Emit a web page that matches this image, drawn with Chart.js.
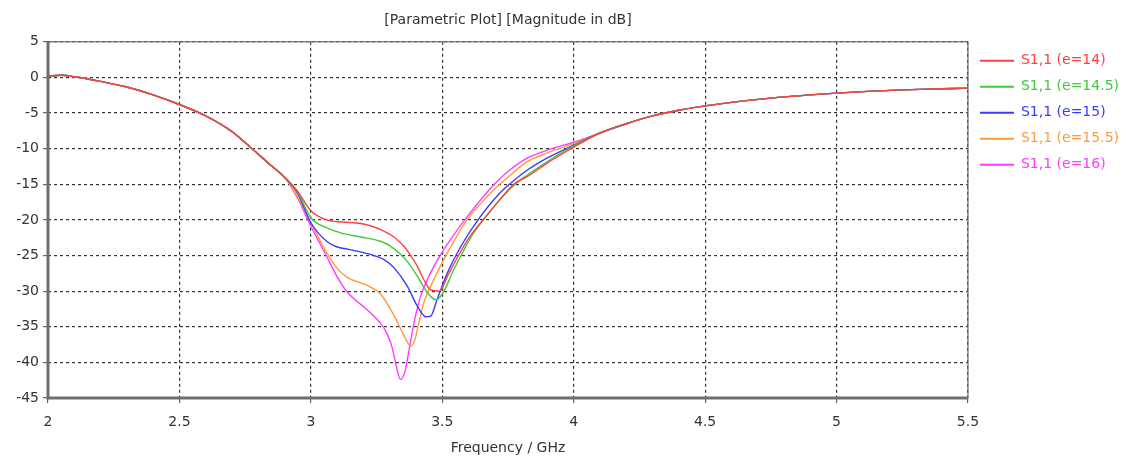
<!DOCTYPE html>
<html>
<head>
<meta charset="utf-8">
<script src="https://cdn.jsdelivr.net/npm/chart.js@4.4.1/dist/chart.umd.min.js"></script>
<style>
  html, body { margin: 0; padding: 0; background: #fff; }
  #wrap { width: 1137px; height: 460px; }
</style>
</head>
<body>
<div id="wrap"><canvas id="plot-s11"></canvas></div>
<script>
// x ticks / y ticks
var freq_ticks = [2, 2.5, 3, 3.5, 4, 4.5, 5, 5.5];
var db_ticks = [5, 0, -5, -10, -15, -20, -25, -30, -35, -40, -45];

// part of the sweep where all curves overlap
var freq_low = [2.0, 2.05, 2.1, 2.2, 2.3, 2.4, 2.5, 2.6, 2.7, 2.77, 2.85, 2.9];
var db_low = [0.2, 0.3, 0.1, -0.55, -1.35, -2.45, -3.8, -5.4, -7.6, -9.8, -12.4, -14.0];
var freq_high = [4.1, 4.2, 4.3, 4.4, 4.5, 4.6, 4.75, 4.9, 5.0, 5.1, 5.25, 5.4, 5.5];
var db_high = [-7.8, -6.5, -5.4, -4.6, -4.0, -3.5, -2.9, -2.45, -2.2, -2.0, -1.75, -1.6, -1.5];

// resonance region, one pair of arrays per epsilon
var freq_e14 = [2.95, 3.0, 3.06, 3.12, 3.19, 3.24, 3.28, 3.32, 3.354, 3.38, 3.405, 3.43, 3.455, 3.49, 3.52, 3.56, 3.6, 3.65, 3.7, 3.775, 3.82, 3.9, 4.0];
var db_e14 = [-16.0, -18.7, -20.0, -20.3, -20.5, -21.0, -21.6, -22.5, -23.7, -25.0, -26.5, -28.4, -29.8, -30.0, -27.9, -25.1, -22.6, -20.2, -18.0, -14.9, -14.0, -12.0, -9.8];

var freq_e145 = [2.95, 3.0, 3.06, 3.12, 3.19, 3.265, 3.3, 3.34, 3.37, 3.405, 3.443, 3.475, 3.5, 3.545, 3.58, 3.62, 3.67, 3.72, 3.8, 3.82, 3.9, 4.0];
var db_e145 = [-16.1, -19.7, -21.1, -21.9, -22.4, -23.0, -23.6, -24.8, -26.0, -27.9, -30.2, -31.2, -30.4, -26.9, -24.4, -21.8, -19.4, -17.1, -14.3, -13.8, -11.8, -9.6];

var freq_e15 = [2.95, 3.0, 3.06, 3.1, 3.14, 3.2, 3.24, 3.28, 3.316, 3.367, 3.405, 3.437, 3.456, 3.48, 3.52, 3.571, 3.634, 3.72, 3.775, 3.82, 3.9, 4.0];
var db_e15 = [-16.3, -20.4, -23.0, -23.8, -24.1, -24.6, -25.0, -25.6, -26.7, -29.3, -32.1, -33.6, -33.5, -31.2, -27.4, -23.7, -20.1, -16.2, -14.4, -13.1, -11.3, -9.5];

var freq_e155 = [2.95, 3.0, 3.06, 3.1, 3.14, 3.214, 3.265, 3.316, 3.354, 3.38, 3.395, 3.41, 3.43, 3.469, 3.52, 3.596, 3.698, 3.76, 3.82, 3.9, 4.0];
var db_e155 = [-16.8, -20.4, -24.6, -26.8, -28.1, -29.2, -30.4, -33.4, -36.2, -37.7, -36.9, -34.6, -31.6, -28.3, -24.6, -19.9, -15.7, -13.7, -11.9, -10.6, -9.3];

var freq_e16 = [2.95, 3.0, 3.06, 3.1, 3.14, 3.214, 3.265, 3.29, 3.31, 3.325, 3.341, 3.358, 3.375, 3.395, 3.418, 3.456, 3.507, 3.596, 3.698, 3.75, 3.82, 3.9, 4.0];
var db_e16 = [-17.0, -20.9, -25.1, -28.0, -30.2, -32.6, -34.5, -36.0, -38.0, -40.5, -42.4, -41.3, -38.0, -34.0, -30.7, -27.4, -24.1, -19.5, -15.0, -13.2, -11.4, -10.2, -9.1];

var series_labels = ["S1,1 (e=14)", "S1,1 (e=14.5)", "S1,1 (e=15)", "S1,1 (e=15.5)", "S1,1 (e=16)"];
var series_colors = ["#ff4040", "#3ec93e", "#3a3aff", "#ff9a3c", "#ff3cff"];

// glue the shared low/high parts around each resonance block
function build_points(fr, db) {
  var all_f = freq_low.concat(fr, freq_high);
  var all_d = db_low.concat(db, db_high);
  var pts = [];
  for (var i = 0; i < all_f.length; i++) {
    pts.push({x: all_f[i], y: all_d[i]});
  }
  return pts;
}

var series_data = [
  build_points(freq_e14, db_e14),
  build_points(freq_e145, db_e145),
  build_points(freq_e15, db_e15),
  build_points(freq_e155, db_e155),
  build_points(freq_e16, db_e16)
];

var datasets = [];
for (var i = 0; i < series_data.length; i++) {
  datasets.push({
    label: series_labels[i],
    data: series_data[i],
    borderColor: series_colors[i],
    backgroundColor: series_colors[i],
    borderWidth: 1.4,
    pointRadius: 0,
    fill: false,
    cubicInterpolationMode: "monotone"
  });
}

// gray frame around the plot area
var frame_plugin = {
  id: "frame",
  afterDatasetsDraw: function(chart) {
    var a = chart.chartArea;
    var ctx = chart.ctx;
    ctx.save();
    ctx.strokeStyle = "#6e6e6e";
    ctx.lineWidth = 1.2;
    ctx.strokeRect(a.left, a.top, a.right - a.left, a.bottom - a.top);
    ctx.lineWidth = 3;
    ctx.beginPath();
    ctx.moveTo(a.left, a.top);
    ctx.lineTo(a.left, a.bottom);
    ctx.lineTo(a.right, a.bottom);
    ctx.stroke();
    ctx.restore();
  }
};

var font_family = "'DejaVu Sans', sans-serif";
Chart.defaults.font.family = font_family;
Chart.defaults.color = "#333";

var chart = new Chart("plot-s11", {
  type: "line",
  data: {datasets: datasets},
  plugins: [frame_plugin],
  options: {
    responsive: true,
    maintainAspectRatio: false,
    animation: false,
    layout: {padding: {top: 10, right: 8, left: 0, bottom: 0}},
    plugins: {
      title: {
        display: true,
        text: "[Parametric Plot] [Magnitude in dB]",
        fullSize: false,
        color: "#333",
        font: {size: 14, weight: "normal"},
        padding: {top: 2, bottom: 13}
      },
      legend: {
        position: "right",
        align: "start",
        fullSize: false,
        labels: {
          usePointStyle: true,
          pointStyle: "line",
          pointStyleWidth: 34,
          boxHeight: 14,
          padding: 12,
          font: {size: 14},
          generateLabels: function(ch) {
            var items = Chart.defaults.plugins.legend.labels.generateLabels(ch);
            items.forEach(function(it) {
              it.fontColor = it.strokeStyle;
              it.lineWidth = 2;
            });
            return items;
          }
        }
      },
      tooltip: {enabled: false}
    },
    scales: {
      x: {
        type: "linear",
        min: 2,
        max: 5.5,
        afterBuildTicks: function(s) { s.ticks = freq_ticks.map(function(v) { return {value: v}; }); },
        afterFit: function(s) { s.height = 62; },
        ticks: {color: "#333", font: {size: 14}, padding: 11, callback: function(v) { return String(v); }},
        grid: {color: "#333", lineWidth: 1.2, tickLength: 5, drawTicks: true, tickColor: "#666"},
        border: {display: false, dash: [3, 3]},
        title: {display: true, text: "Frequency / GHz", color: "#333", font: {size: 14}, padding: {top: 4, bottom: 3}}
      },
      y: {
        min: -45,
        max: 5,
        afterBuildTicks: function(s) { s.ticks = db_ticks.map(function(v) { return {value: v}; }); },
        afterFit: function(s) { s.width = 48; },
        ticks: {color: "#333", font: {size: 14}, padding: 4, callback: function(v) { return String(v); }},
        grid: {color: "#333", lineWidth: 1.2, tickLength: 5, tickColor: "#666"},
        border: {display: false, dash: [3, 3]}
      }
    }
  }
});
</script>
</body>
</html>
